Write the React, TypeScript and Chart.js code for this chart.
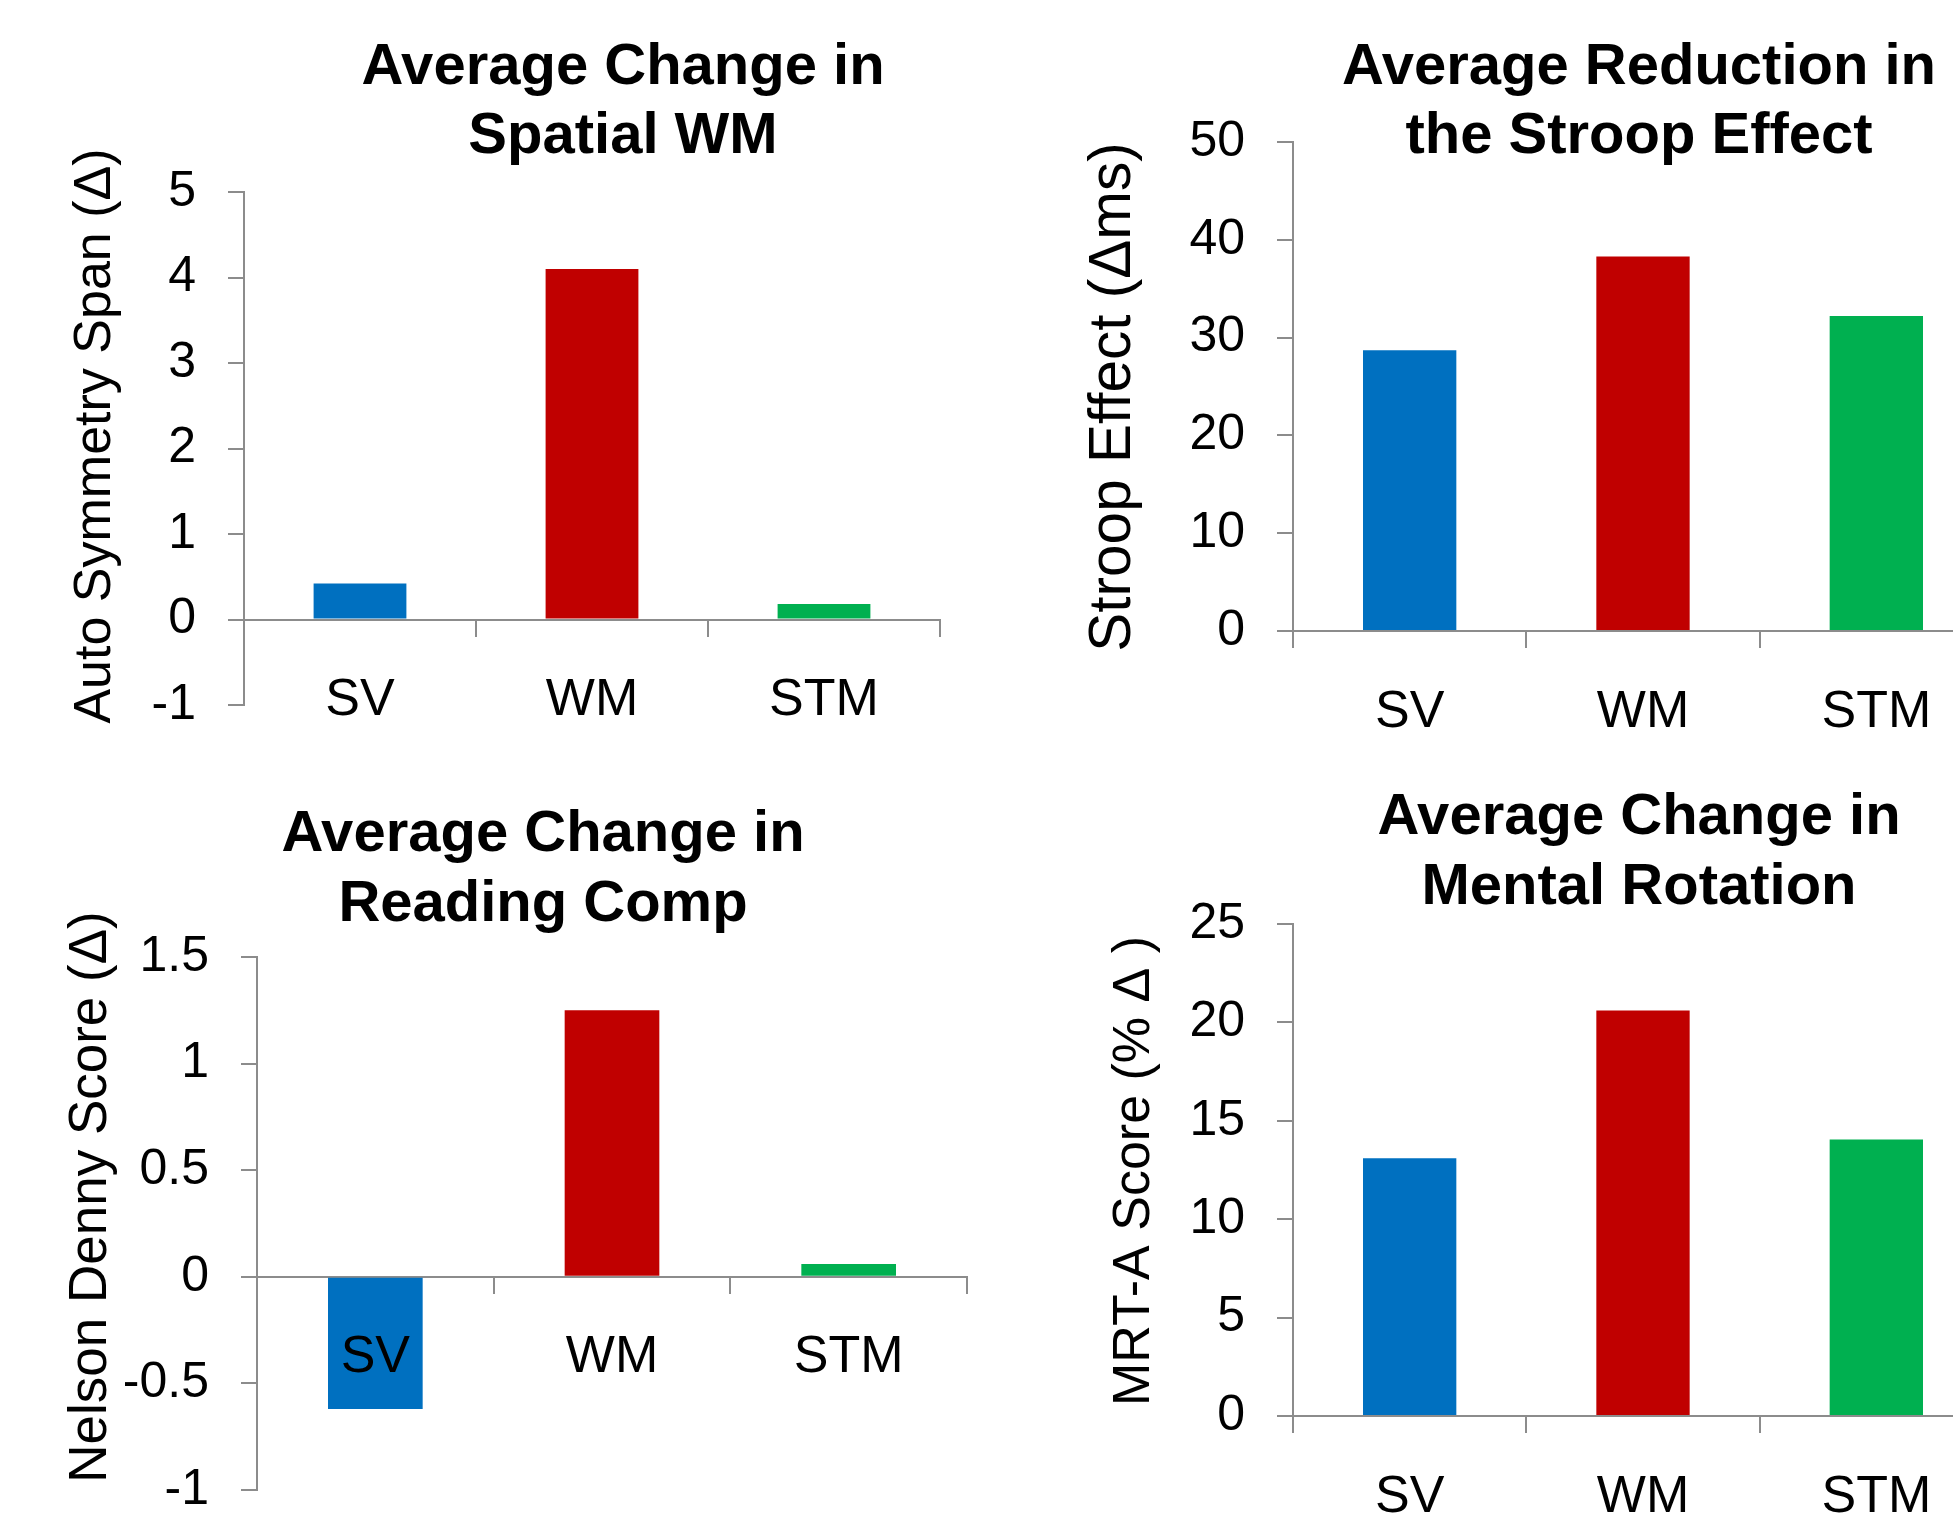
import React, { useEffect, useRef } from 'react';
import { Chart, registerables } from 'chart.js';

Chart.register(...registerables);

const FONT = '"Liberation Sans", Arial, Helvetica, sans-serif';
const AXIS_COLOR = '#8c8c8c';

// Training groups shared by all four panels
const groups = ['SV', 'WM', 'STM'];
const groupColors = ['#0070C0', '#C00000', '#00B050'];

// Spatial working memory (Auto Symmetry Span change)
const spatialTitle = ['Average Change in', 'Spatial WM'];
const spatialAxis = 'Auto Symmetry Span (Δ)';
const spatialValues = [0.42, 4.1, 0.18];
const spatialTicks = [-1, 0, 1, 2, 3, 4, 5];

// Stroop effect reduction (ms)
const stroopTitle = ['Average Reduction in', 'the Stroop Effect'];
const stroopAxis = 'Stroop Effect (Δms)';
const stroopValues = [28.7, 38.3, 32.2];
const stroopTicks = [0, 10, 20, 30, 40, 50];

// Reading comprehension (Nelson Denny change)
const readingTitle = ['Average Change in', 'Reading Comp'];
const readingAxis = 'Nelson Denny Score (Δ)';
const readingValues = [-0.62, 1.25, 0.06];
const readingTicks = [-1, -0.5, 0, 0.5, 1, 1.5];

// Mental rotation (MRT-A % change)
const rotationTitle = ['Average Change in', 'Mental Rotation'];
const rotationAxis = 'MRT-A Score (% Δ )';
const rotationValues = [13.1, 20.6, 14.05];
const rotationTicks = [0, 5, 10, 15, 20, 25];

const CANVAS_W = 2100;
const CANVAS_H = 1600;

type Panel = {
  key: string;
  title: string[];
  axisLabel: string;
  values: number[];
  ticks: number[];
  pad: { left: number; top: number; right: number; bottom: number };
  axisWidth: number;
  head: { x: number; y: number; gap: number };
  label: { x: number; y: number; size: number };
};

const panels: Panel[] = [
  {
    key: 'spatial',
    title: spatialTitle,
    axisLabel: spatialAxis,
    values: spatialValues,
    ticks: spatialTicks,
    pad: { left: 20, top: 192, right: CANVAS_W - 940, bottom: CANVAS_H - 705 },
    axisWidth: 224,
    head: { x: 623, y: 68, gap: 69 },
    label: { x: 96, y: 436, size: 52 },
  },
  {
    key: 'stroop',
    title: stroopTitle,
    axisLabel: stroopAxis,
    values: stroopValues,
    ticks: stroopTicks,
    pad: { left: 1020, top: 142, right: CANVAS_W - 1993, bottom: CANVAS_H - 631 },
    axisWidth: 273,
    head: { x: 1639, y: 68, gap: 69 },
    label: { x: 1114, y: 397, size: 58.5 },
  },
  {
    key: 'reading',
    title: readingTitle,
    axisLabel: readingAxis,
    values: readingValues,
    ticks: readingTicks,
    pad: { left: 20, top: 957, right: CANVAS_W - 967, bottom: CANVAS_H - 1490 },
    axisWidth: 237,
    head: { x: 543, y: 835, gap: 70 },
    label: { x: 91, y: 1197, size: 53 },
  },
  {
    key: 'rotation',
    title: rotationTitle,
    axisLabel: rotationAxis,
    values: rotationValues,
    ticks: rotationTicks,
    pad: { left: 1020, top: 924, right: CANVAS_W - 1993, bottom: CANVAS_H - 1416 },
    axisWidth: 273,
    head: { x: 1639, y: 818, gap: 70 },
    label: { x: 1135, y: 1171, size: 52 },
  },
];

function BarPanel({ panel }: { panel: Panel }) {
  const ref = useRef<HTMLCanvasElement | null>(null);

  useEffect(() => {
    if (!ref.current) return;

    // Bold two-line heading and the rotated value-axis caption
    const panelText = {
      id: 'panelText',
      afterDraw(chart: Chart) {
        const ctx = chart.ctx;
        ctx.save();
        ctx.fillStyle = '#000';
        ctx.textAlign = 'center';
        ctx.textBaseline = 'middle';
        ctx.font = `bold 58px ${FONT}`;
        panel.title.forEach((line, i) => {
          ctx.fillText(line, panel.head.x, panel.head.y + i * panel.head.gap);
        });
        ctx.translate(panel.label.x, panel.label.y);
        ctx.rotate(-Math.PI / 2);
        ctx.font = `${panel.label.size}px ${FONT}`;
        ctx.fillText(panel.axisLabel, 0, 0);
        ctx.restore();
      },
    };

    const chart = new Chart(ref.current, {
      type: 'bar',
      data: {
        labels: groups,
        datasets: [
          {
            data: panel.values,
            backgroundColor: groupColors,
            borderWidth: 0,
            barPercentage: 0.4,
            categoryPercentage: 1,
          },
        ],
      },
      options: {
        responsive: false,
        animation: false,
        events: [],
        layout: { padding: panel.pad },
        plugins: {
          legend: { display: false },
          tooltip: { enabled: false },
          title: { display: false },
        },
        scales: {
          x: {
            type: 'category',
            position: { y: 0 } as any,
            offset: true,
            grid: {
              display: true,
              offset: true,
              drawOnChartArea: false,
              drawTicks: true,
              tickLength: 16,
              color: AXIS_COLOR,
              lineWidth: 2,
            },
            border: { display: true, color: AXIS_COLOR, width: 2 },
            ticks: {
              z: 1,
              color: '#000',
              font: { family: FONT, size: 52 },
              padding: 34,
              maxRotation: 0,
              autoSkip: false,
            },
          },
          y: {
            type: 'linear',
            position: 'left',
            min: Math.min(...panel.ticks),
            max: Math.max(...panel.ticks),
            afterBuildTicks: (scale: any) => {
              scale.ticks = panel.ticks.map((v) => ({ value: v }));
            },
            afterFit: (scale: any) => {
              scale.width = panel.axisWidth;
            },
            grid: {
              display: true,
              drawOnChartArea: false,
              drawTicks: true,
              tickLength: 16,
              color: AXIS_COLOR,
              lineWidth: 2,
            },
            border: { display: true, color: AXIS_COLOR, width: 2 },
            ticks: {
              color: '#000',
              font: { family: FONT, size: 50 },
              padding: 32,
              callback: (v: any) => String(v),
            },
            title: { display: false },
          },
        },
      },
      plugins: [panelText],
    });

    return () => chart.destroy();
  }, [panel]);

  return (
    <canvas
      ref={ref}
      width={CANVAS_W}
      height={CANVAS_H}
      style={{ position: 'absolute', left: 0, top: 0 }}
    />
  );
}

export default function App() {
  return (
    <div
      style={{
        position: 'fixed',
        left: 0,
        top: 0,
        width: '100vw',
        height: '100vh',
        overflow: 'hidden',
        background: '#fff',
      }}
    >
      {panels.map((p) => (
        <BarPanel key={p.key} panel={p} />
      ))}
    </div>
  );
}
